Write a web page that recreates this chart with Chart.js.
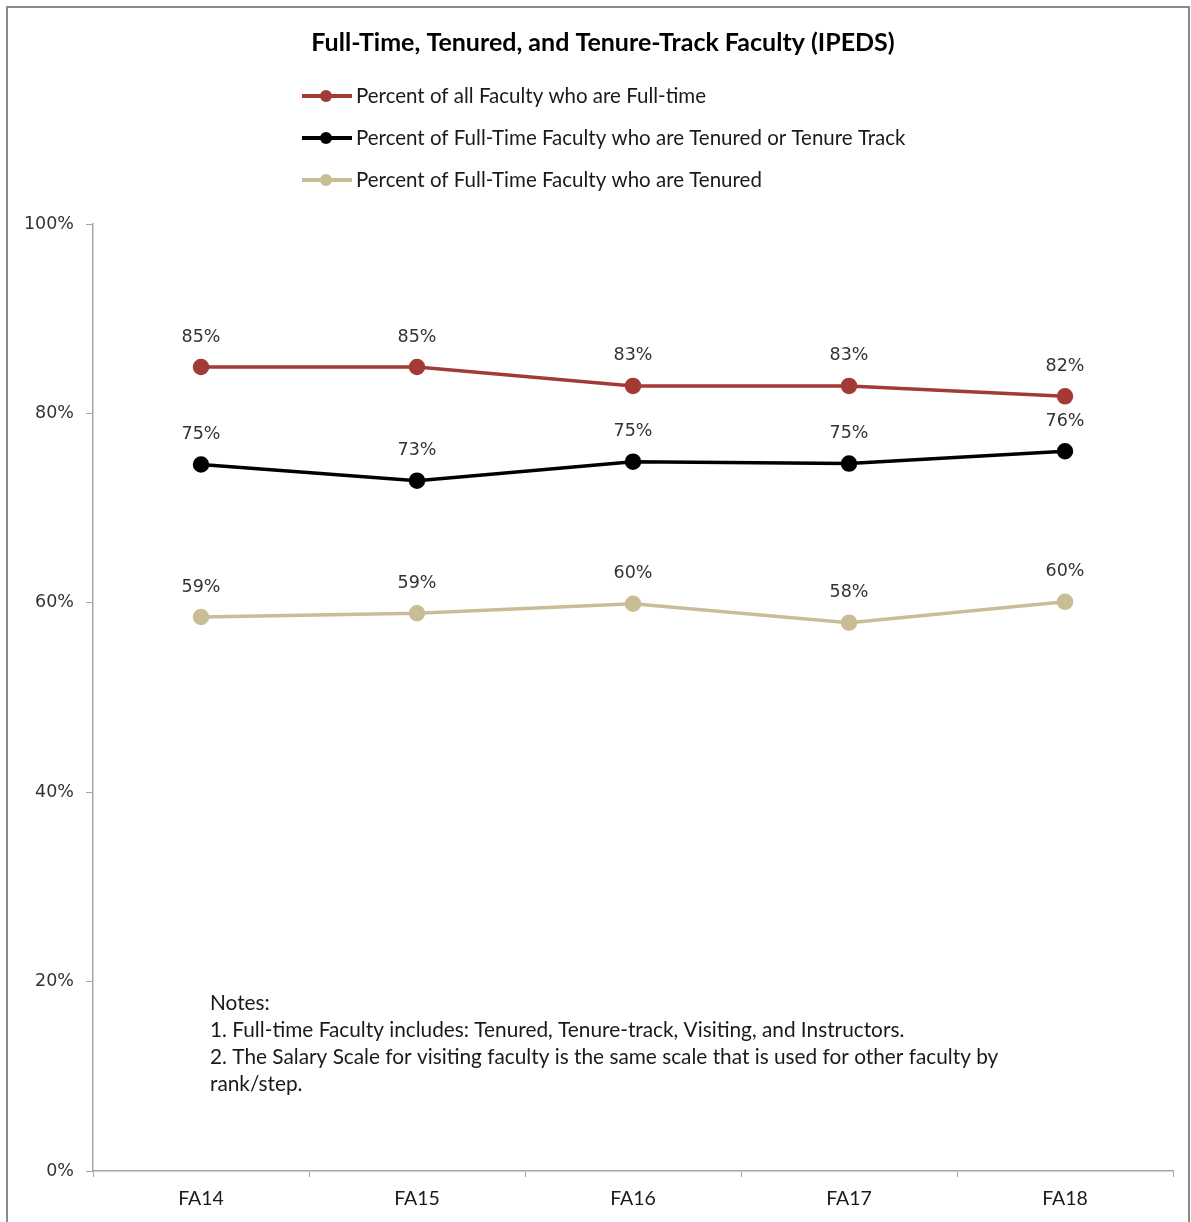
<!DOCTYPE html>
<html>
<head>
<meta charset="utf-8">
<script src="https://cdn.jsdelivr.net/npm/chart.js@4"></script>
<style>
  html, body { margin: 0; padding: 0; background: #fff; }
  #wrap { width: 1191px; height: 1222px; position: relative; }
</style>
</head>
<body>
<div id="wrap"><canvas id="facultyChart" width="1191" height="1222"></canvas></div>
<script>
// Data
const years = ['FA14', 'FA15', 'FA16', 'FA17', 'FA18'];
const pctFullTime = [84.9, 84.9, 82.9, 82.9, 81.8];
const pctTenureTrack = [74.6, 72.9, 74.9, 74.7, 76.0];
const pctTenured = [58.5, 58.9, 59.9, 57.9, 60.1];
const yTicks = [0, 20, 40, 60, 80, 100];

const seriesNames = [
  'Percent of all Faculty who are Full-time',
  'Percent of Full-Time Faculty who are Tenured or Tenure Track',
  'Percent of Full-Time Faculty who are Tenured'
];
const seriesColors = ['#a33a36', '#000000', '#c8bd95'];

const chartTitle = 'Full-Time, Tenured, and Tenure-Track Faculty (IPEDS)';
const notes = [
  'Notes:',
  '1. Full-time Faculty includes: Tenured, Tenure-track, Visiting, and Instructors.',
  '2. The Salary Scale for visiting faculty is the same scale that is used for other faculty by',
  'rank/step.'
];

const textFont = 'Lato, "Open Sans", sans-serif';
const numFont = '"DejaVu Sans", Verdana, sans-serif';

// frame, title, legend and notes
const decorPlugin = {
  id: 'decor',
  afterDraw(chart) {
    const ctx = chart.ctx;
    ctx.save();
    ctx.strokeStyle = '#8a8a8a';
    ctx.lineWidth = 2;
    ctx.strokeRect(7, 7, 1182, 1240);

    ctx.fillStyle = '#000';
    ctx.font = 'bold 25px ' + textFont;
    ctx.textAlign = 'center';
    ctx.textBaseline = 'middle';
    ctx.fillText(chartTitle, 603, 43);

    ctx.font = '20.5px ' + textFont;
    ctx.textAlign = 'left';
    chart.data.datasets.forEach((ds, i) => {
      const y = 96 + i * 42;
      ctx.strokeStyle = ds.borderColor;
      ctx.lineWidth = 4;
      ctx.beginPath();
      ctx.moveTo(302, y);
      ctx.lineTo(352, y);
      ctx.stroke();
      ctx.fillStyle = ds.borderColor;
      ctx.beginPath();
      ctx.arc(326, y, 6, 0, Math.PI * 2);
      ctx.fill();
      ctx.fillStyle = '#1a1a1a';
      ctx.fillText(ds.label, 356, y);
    });

    ctx.font = '20.8px ' + textFont;
    ctx.fillStyle = '#1a1a1a';
    notes.forEach((line, i) => ctx.fillText(line, 210, 1003 + i * 27));

    // value labels above points
    ctx.font = '17.5px ' + numFont;
    ctx.fillStyle = '#333';
    ctx.textAlign = 'center';
    chart.data.datasets.forEach((ds, i) => {
      chart.getDatasetMeta(i).data.forEach((pt, j) => {
        ctx.fillText(Math.round(ds.data[j]) + '%', pt.x, pt.y - 30);
      });
    });
    ctx.restore();
  }
};

const ctx = document.getElementById('facultyChart').getContext('2d');
const facultyChart = new Chart(ctx, {
  type: 'line',
  data: {
    labels: years,
    datasets: [pctFullTime, pctTenureTrack, pctTenured].map((vals, i) => ({
      label: seriesNames[i],
      data: vals,
      borderColor: seriesColors[i],
      backgroundColor: seriesColors[i],
      borderWidth: 3.5,
      pointRadius: 6.5,
      pointHoverRadius: 6.5,
      fill: false,
      tension: 0
    }))
  },
  options: {
    responsive: false,
    animation: false,
    layout: { padding: { top: 224, right: 18, left: 0, bottom: 0 } },
    plugins: {
      legend: { display: false },
      title: { display: false },
      tooltip: { enabled: false }
    },
    scales: {
      x: {
        offset: true,
        afterFit(scale) { scale.height = 51; },
        grid: { offset: true, drawOnChartArea: false, tickLength: 6, color: '#a6a6a6' },
        border: { color: '#a6a6a6', width: 1.5 },
        ticks: { padding: 10, color: '#1a1a1a', font: { family: textFont, size: 19.5 } }
      },
      y: {
        min: 0,
        max: 100,
        afterFit(scale) { scale.width = 93; },
        afterBuildTicks(scale) { scale.ticks = yTicks.map(v => ({ value: v })); },
        grid: { drawOnChartArea: false, tickLength: 7, color: '#a6a6a6' },
        border: { color: '#a6a6a6', width: 1.5 },
        ticks: {
          padding: 12,
          color: '#333',
          font: { family: numFont, size: 17.5 },
          callback: v => v + '%'
        }
      }
    }
  },
  plugins: [decorPlugin]
});
</script>
</body>
</html>
